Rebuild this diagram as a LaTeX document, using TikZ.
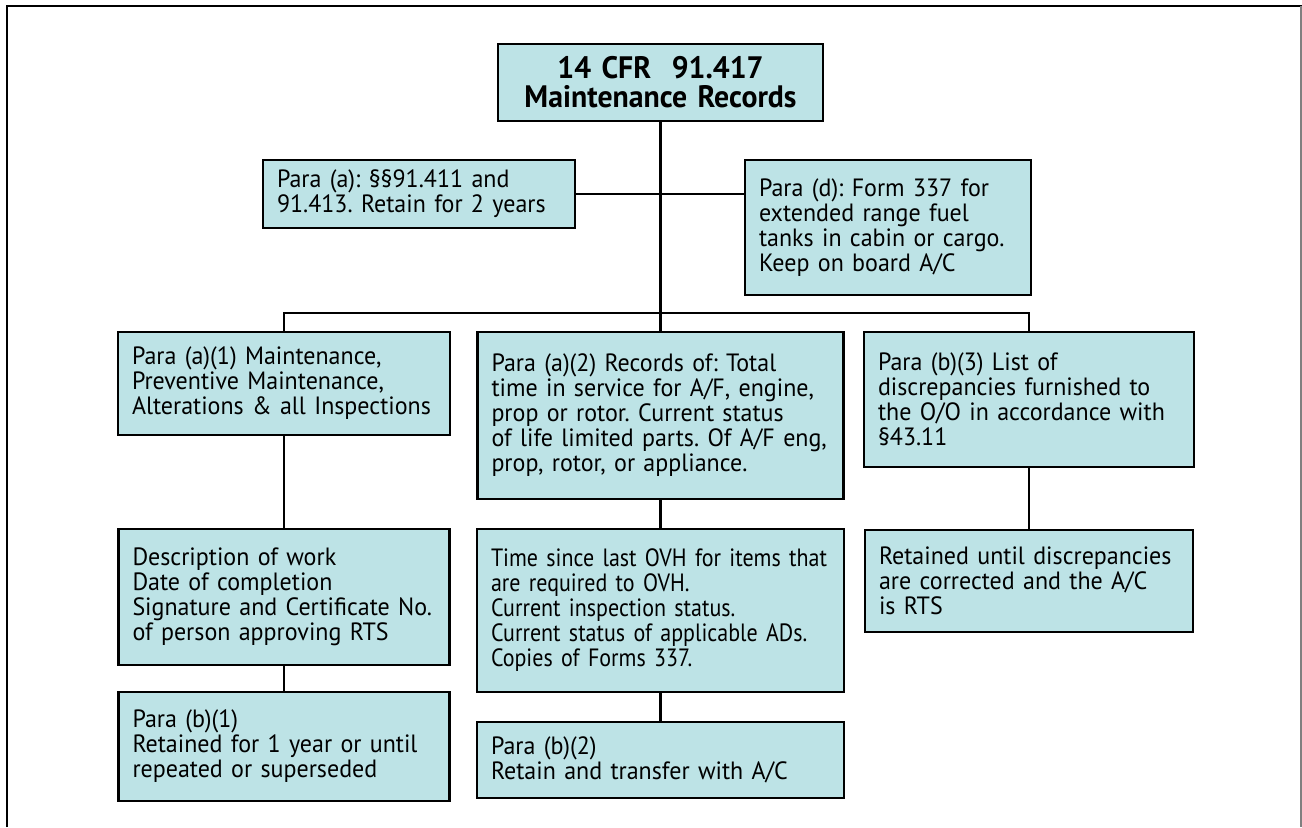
\documentclass[tikz,border=0pt]{standalone}
\usepackage{fontspec}
\setmainfont{PT Sans}[FakeStretch=0.96]
\newfontfamily\narrowsans[FakeStretch=0.88]{PT Sans}
\usepackage{xcolor}
\usepackage{tikz}

\definecolor{recfill}{RGB}{189,227,230}

\begin{document}
\frenchspacing
\begin{tikzpicture}[
  x=0.5pt, y=-0.5pt,
  box/.style={draw, line width=1.4pt, fill=recfill, align=left,
              inner xsep=7pt, inner ysep=2pt,
              font=\fontsize{12.5}{12.5}\selectfont},
  link/.style={line width=1.2pt},
]
  \useasboundingbox (0,0) rectangle (1302,827);
  % Rahmen
  \draw[line width=1pt] (7,827) -- (7,5.5) -- (1302,5.5);
  \draw[gray, line width=0.6pt] (1301,5.5) -- (1301,827);
  % Kopf
  \node[box, align=center, text width=148.5pt, minimum height=38.5pt,
        font=\fontsize{15.5}{14.5}\selectfont\bfseries] (top) at (660.5, 82.5)
        {14 CFR\ \ 91.417\\Maintenance Records};
  % Zeile 1: Para (a) und Para (d)
  \node[box, text width=142pt, minimum height=34pt]   (paraa) at ( 419, 194)
        {Para (a): §§91.411 and\\91.413. Retain for 2 years};
  \node[box, text width=129pt, minimum height=67.5pt] (parad) at ( 888, 227.5)
        {Para (d): Form 337 for\\extended range fuel\\tanks in cabin or cargo.\\Keep on board A/C};
  % Zeile 2
  \node[box, text width=152pt, minimum height=51.5pt] (a1)    at ( 284, 383.5)
        {Para (a)(1) Maintenance,\\Preventive Maintenance,\\Alterations \& all Inspections};
  \node[box, text width=169pt, minimum height=83.5pt] (a2)    at ( 660.5, 415.5)
        {Para (a)(2) Records of: Total\\time in service for A/F, engine,\\prop or rotor. Current status\\of life limited parts. Of A/F eng,\\prop, rotor, or appliance.};
  \node[box, text width=151pt, minimum height=67.5pt] (b3)    at (1029, 399.5)
        {Para (b)(3) List of\\discrepancies furnished to\\the O/O in accordance with\\§43.11};
  % Zeile 3
  \node[box, text width=151.5pt, minimum height=68pt] (desc)  at ( 284, 597)
        {Description of work\\Date of completion\\Signature and Certificate No.\\of person approving RTS};
  \node[box, text width=169.5pt, minimum height=81.5pt,
        font=\fontsize{12.5}{12.5}\narrowsans] (ovh) at ( 660.5, 610.5)
        {Time since last OVH for items that\\are required to OVH.\\Current inspection status.\\Current status of applicable ADs.\\Copies of Forms 337.};
  \node[box, text width=150pt, minimum height=51pt]   (rts)   at (1029, 581)
        {Retained until discrepancies\\are corrected and the A/C\\is RTS};
  % Zeile 4
  \node[box, text width=151.5pt, minimum height=54.5pt] (b1)  at ( 284, 746.5)
        {Para (b)(1)\\Retained for 1 year or until\\repeated or superseded};
  \node[box, text width=169.5pt, minimum height=38pt] (b2)    at ( 660.5, 760)
        {Para (b)(2)\\Retain and transfer with A/C};
  % Linien
  \coordinate (bus) at (660.5, 313);
  \draw[link] (top.south) -- (a2.north);
  \draw[link] (a1.north) |- (bus) -| (b3.north);
  \draw[link] (paraa.east) -- (paraa.east -| parad.west);
  \draw[link] (a1.south) -- (desc.north);
  \draw[link] (desc.south) -- (b1.north);
  \draw[link] (a2.south) -- (ovh.north);
  \draw[link] (ovh.south) -- (b2.north);
  \draw[link] (b3.south) -- (rts.north);
\end{tikzpicture}
\end{document}
